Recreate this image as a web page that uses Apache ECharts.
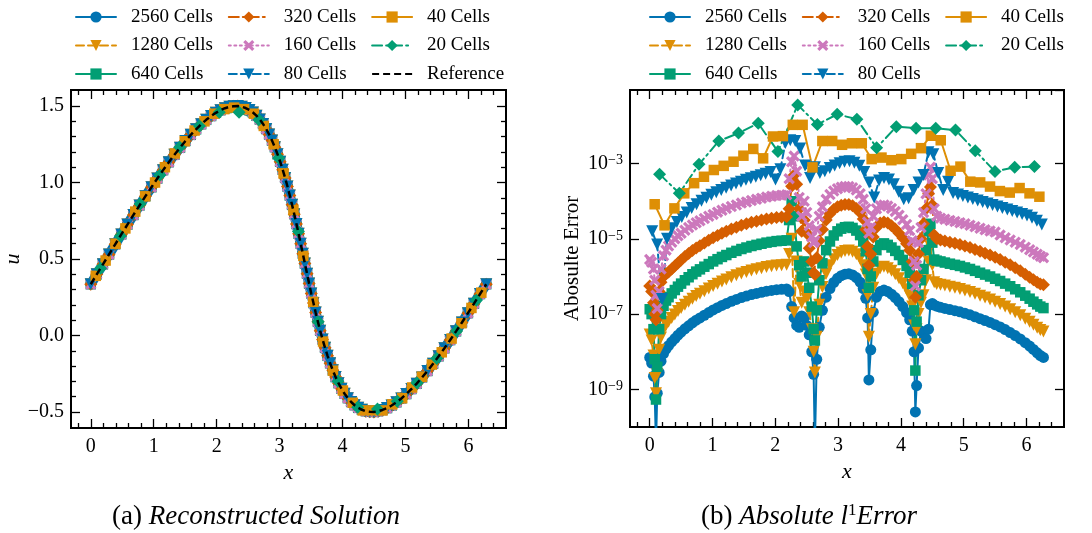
<!DOCTYPE html>
<html>
<head>
<meta charset="utf-8">
<script src="https://cdn.jsdelivr.net/npm/echarts@6/dist/echarts.min.js"></script>
<style>
html,body{margin:0;padding:0;background:#ffffff;}
#chart{width:1092px;height:533px;}
</style>
</head>
<body>
<div id="chart"></div>
<script>
// ---------------- DATA ----------------
// Panel (a): reconstructed solution u(x)
const xCurve = [0.000,0.095,0.193,0.290,0.388,0.485,0.582,0.678,0.774,0.869,0.964,1.057,1.149,1.240,1.329,1.418,1.504,1.589,1.673,1.754,1.834,1.912,1.988,2.061,2.133,2.203,2.270,2.336,2.399,2.461,2.520,2.577,2.632,2.686,2.737,2.787,2.834,2.880,2.925,2.967,3.009,3.049,3.088,3.125,3.162,3.198,3.233,3.268,3.302,3.335,3.369,3.402,3.436,3.469,3.503,3.538,3.573,3.609,3.645,3.683,3.722,3.762,3.803,3.846,3.890,3.936,3.983,4.033,4.084,4.137,4.192,4.249,4.308,4.369,4.433,4.498,4.566,4.635,4.707,4.780,4.856,4.934,5.013,5.095,5.178,5.263,5.349,5.438,5.527,5.618,5.710,5.803,5.897,5.992,6.088,6.184,6.283];
const uCurve = [0.335,0.400,0.465,0.530,0.596,0.661,0.725,0.788,0.850,0.911,0.969,1.026,1.081,1.133,1.182,1.228,1.272,1.312,1.348,1.381,1.410,1.435,1.456,1.473,1.486,1.495,1.499,1.500,1.495,1.487,1.475,1.458,1.437,1.412,1.383,1.350,1.314,1.274,1.231,1.185,1.136,1.084,1.030,0.974,0.915,0.854,0.793,0.729,0.665,0.600,0.535,0.470,0.404,0.339,0.275,0.212,0.150,0.089,0.031,-0.026,-0.081,-0.133,-0.182,-0.228,-0.272,-0.312,-0.348,-0.381,-0.410,-0.435,-0.456,-0.473,-0.486,-0.495,-0.499,-0.500,-0.495,-0.487,-0.475,-0.458,-0.437,-0.412,-0.383,-0.350,-0.315,-0.274,-0.232,-0.185,-0.136,-0.084,-0.030,0.027,0.085,0.146,0.208,0.271,0.335];
const x40 = [0.079,0.236,0.393,0.550,0.707,0.864,1.021,1.178,1.335,1.492,1.649,1.806,1.963,2.121,2.278,2.435,2.592,2.749,2.906,3.063,3.220,3.377,3.534,3.691,3.848,4.006,4.163,4.320,4.477,4.634,4.791,4.948,5.105,5.262,5.419,5.576,5.733,5.890,6.048,6.205];
const u40 = [0.39,0.49,0.60,0.70,0.81,0.91,1.00,1.10,1.19,1.27,1.34,1.40,1.45,1.48,1.49,1.48,1.45,1.37,1.25,1.06,0.82,0.52,0.22,-0.04,-0.23,-0.36,-0.44,-0.49,-0.49,-0.49,-0.45,-0.41,-0.34,-0.27,-0.19,-0.11,-0.02,0.08,0.18,0.28];
const x20 = [0.157,0.471,0.785,1.100,1.414,1.728,2.042,2.356,2.670,2.985,3.299,3.613,3.927,4.241,4.555,4.869,5.184,5.498,5.812,6.126];
const u20 = [0.44,0.65,0.86,1.05,1.23,1.37,1.46,1.46,1.41,1.16,0.68,0.09,-0.30,-0.47,-0.48,-0.43,-0.31,-0.15,0.03,0.23];

// Panel (b): absolute error, stored as log10 of the value read on the log axis
const xFine = [0.00,0.03,0.06,0.08,0.10,0.12,0.15,0.18,0.22,0.26,0.30,0.35,0.40,0.45,0.50,0.56,0.62,0.68,0.74,0.80,0.87,0.94,1.01,1.08,1.15,1.22,1.30,1.38,1.46,1.54,1.62,1.70,1.78,1.86,1.94,2.02,2.10,2.18,2.22,2.26,2.30,2.34,2.38,2.42,2.46,2.50,2.54,2.58,2.61,2.63,2.66,2.70,2.75,2.81,2.87,2.93,2.99,3.05,3.11,3.17,3.23,3.29,3.35,3.40,3.44,3.47,3.49,3.52,3.56,3.61,3.67,3.73,3.79,3.85,3.91,3.97,4.03,4.09,4.14,4.18,4.21,4.23,4.25,4.28,4.32,4.36,4.40,4.44,4.47,4.50,4.53,4.57,4.63,4.70,4.78,4.86,4.94,5.02,5.10,5.18,5.26,5.34,5.42,5.50,5.58,5.66,5.74,5.82,5.90,5.98,6.05,6.11,6.17,6.22,6.27];
const lg2560 = [-8.15,-8.30,-8.65,-9.20,-10.5,-9.10,-8.55,-8.25,-8.05,-7.93,
-7.84,-7.74,-7.65,-7.56,-7.48,-7.39,-7.31,-7.23,-7.16,-7.10,
-7.03,-6.96,-6.89,-6.83,-6.77,-6.72,-6.66,-6.61,-6.56,-6.52,
-6.48,-6.45,-6.42,-6.39,-6.37,-6.35,-6.34,-6.33,-6.40,-6.80,
-7.10,-7.30,-7.35,-7.05,-7.10,-7.30,-7.55,-8.00,-8.60,-10.5,
-8.20,-7.35,-6.90,-6.55,-6.32,-6.16,-6.05,-5.98,-5.94,-5.93,
-5.96,-6.03,-6.15,-6.32,-6.58,-7.10,-8.75,-7.95,-6.95,-6.55,
-6.40,-6.36,-6.40,-6.47,-6.56,-6.67,-6.80,-6.96,-7.15,-7.45,
-8.00,-9.60,-8.90,-7.90,-7.45,-7.50,-7.65,-7.40,-6.75,-6.72,
-6.76,-6.79,-6.82,-6.85,-6.88,-6.91,-6.94,-6.98,-7.02,-7.07,
-7.12,-7.17,-7.22,-7.28,-7.34,-7.41,-7.49,-7.57,-7.66,-7.76,
-7.85,-7.94,-8.03,-8.10,-8.15];
const lg1280 = [-7.54,-7.70,-8.10,-8.70,-9.10,-8.60,-7.95,-7.62,-7.41,-7.29,
-7.20,-7.10,-7.01,-6.92,-6.84,-6.75,-6.67,-6.59,-6.52,-6.46,
-6.39,-6.32,-6.25,-6.19,-6.13,-6.08,-6.02,-5.97,-5.92,-5.88,
-5.84,-5.81,-5.78,-5.75,-5.73,-5.71,-5.70,-5.69,-5.40,-5.00,
-6.95,-5.60,-6.20,-6.70,-6.40,-6.60,-6.95,-7.40,-8.00,-8.55,
-7.60,-6.75,-6.28,-5.93,-5.70,-5.54,-5.43,-5.36,-5.32,-5.31,
-5.34,-5.41,-5.53,-5.70,-5.95,-6.50,-7.60,-7.00,-6.30,-5.93,
-5.78,-5.74,-5.78,-5.85,-5.94,-6.05,-6.18,-6.34,-6.52,-6.80,
-7.30,-7.80,-7.40,-7.00,-6.70,-6.50,-6.10,-5.60,-5.20,-5.70,
-6.15,-6.20,-6.22,-6.24,-6.27,-6.30,-6.33,-6.37,-6.41,-6.46,
-6.51,-6.56,-6.61,-6.67,-6.73,-6.80,-6.87,-6.95,-7.03,-7.12,
-7.20,-7.28,-7.36,-7.42,-7.46];
const lg640 = [-6.87,-7.00,-7.40,-8.20,-9.27,-8.40,-7.40,-7.00,-6.78,-6.64,
-6.55,-6.45,-6.36,-6.27,-6.19,-6.10,-6.02,-5.94,-5.87,-5.81,
-5.74,-5.67,-5.60,-5.54,-5.48,-5.43,-5.37,-5.32,-5.27,-5.23,
-5.19,-5.16,-5.13,-5.10,-5.08,-5.06,-5.05,-5.04,-4.50,-4.00,
-4.40,-5.20,-5.70,-6.00,-5.60,-5.90,-6.30,-6.80,-7.40,-7.70,
-6.90,-6.10,-5.65,-5.30,-5.07,-4.91,-4.80,-4.73,-4.69,-4.68,
-4.71,-4.78,-4.90,-5.07,-5.33,-5.80,-6.30,-6.00,-5.60,-5.30,
-5.16,-5.12,-5.16,-5.23,-5.32,-5.43,-5.56,-5.72,-5.90,-6.20,
-6.90,-8.50,-7.20,-6.50,-6.10,-5.80,-5.30,-4.80,-4.60,-5.10,
-5.55,-5.58,-5.60,-5.63,-5.66,-5.69,-5.72,-5.76,-5.80,-5.85,
-5.90,-5.95,-6.00,-6.06,-6.12,-6.19,-6.26,-6.34,-6.42,-6.51,
-6.59,-6.67,-6.74,-6.80,-6.84];
const lg320 = [-6.25,-6.40,-6.70,-7.00,-7.15,-6.90,-6.40,-6.15,-6.00,-5.93,
-5.88,-5.80,-5.72,-5.64,-5.56,-5.47,-5.39,-5.31,-5.24,-5.18,
-5.11,-5.04,-4.97,-4.91,-4.85,-4.80,-4.74,-4.69,-4.64,-4.60,
-4.56,-4.53,-4.50,-4.47,-4.45,-4.43,-4.42,-4.41,-4.20,-3.60,
-3.30,-3.55,-4.20,-4.80,-4.50,-4.85,-5.25,-5.60,-5.90,-5.95,
-5.50,-5.05,-4.75,-4.50,-4.33,-4.22,-4.15,-4.11,-4.09,-4.09,
-4.12,-4.19,-4.30,-4.47,-4.75,-5.20,-5.70,-5.40,-4.95,-4.70,
-4.58,-4.55,-4.58,-4.65,-4.74,-4.85,-4.98,-5.13,-5.30,-5.60,
-6.10,-6.55,-6.00,-5.40,-5.00,-4.60,-4.20,-3.80,-3.62,-4.10,
-4.90,-5.00,-5.03,-5.06,-5.09,-5.12,-5.15,-5.19,-5.23,-5.28,
-5.33,-5.38,-5.43,-5.49,-5.55,-5.62,-5.69,-5.77,-5.85,-5.94,
-6.02,-6.09,-6.15,-6.20,-6.22];
const lg160 = [-5.55,-5.62,-5.80,-6.10,-6.50,-6.85,-6.40,-5.80,-5.45,-5.30,
-5.19,-5.09,-5.00,-4.92,-4.85,-4.77,-4.70,-4.63,-4.57,-4.52,
-4.46,-4.40,-4.35,-4.29,-4.24,-4.19,-4.14,-4.10,-4.05,-4.02,
-3.98,-3.95,-3.92,-3.89,-3.87,-3.85,-3.84,-3.83,-3.40,-2.95,
-2.80,-3.20,-3.90,-4.40,-4.00,-4.30,-4.65,-4.95,-5.10,-5.05,
-4.75,-4.40,-4.15,-3.95,-3.82,-3.73,-3.67,-3.63,-3.61,-3.61,
-3.64,-3.70,-3.80,-3.95,-4.20,-4.55,-4.85,-4.70,-4.40,-4.20,
-4.12,-4.10,-4.13,-4.19,-4.27,-4.37,-4.49,-4.62,-4.78,-5.05,
-5.60,-6.25,-5.70,-5.10,-4.70,-4.30,-3.80,-3.30,-3.10,-3.40,
-4.20,-4.40,-4.45,-4.48,-4.51,-4.54,-4.57,-4.60,-4.64,-4.68,
-4.72,-4.76,-4.79,-4.82,-4.90,-4.97,-5.03,-5.09,-5.15,-5.22,
-5.29,-5.35,-5.41,-5.46,-5.50];
const x80 = [0.039,0.118,0.196,0.275,0.353,0.432,0.511,0.589,0.668,0.746,0.825,0.903,0.982,1.060,1.139,1.217,1.296,1.374,1.453,1.532,1.610,1.689,1.767,1.846,1.924,2.003,2.081,2.160,2.238,2.317,2.395,2.474,2.553,2.631,2.710,2.788,2.867,2.945,3.024,3.102,3.181,3.259,3.338,3.416,3.495,3.574,3.652,3.731,3.809,3.888,3.966,4.045,4.123,4.202,4.280,4.359,4.437,4.516,4.595,4.673,4.752,4.830,4.909,4.987,5.066,5.145,5.223,5.302,5.380,5.459,5.537,5.616,5.694,5.773,5.851,5.930,6.008,6.087,6.165,6.244];
const lg80 = [-4.80,-5.15,-6.60,-5.00,-4.72,-4.55,-4.42,-4.30,-4.18,-4.08,
-3.99,-3.91,-3.83,-3.76,-3.70,-3.64,-3.58,-3.53,-3.48,-3.43,
-3.39,-3.35,-3.31,-3.27,-3.22,-3.42,-3.15,-2.45,-2.38,-2.40,
-2.60,-3.05,-3.38,-3.10,-3.25,-3.20,-3.12,-3.05,-2.99,-2.95,
-2.94,-2.98,-3.06,-3.22,-3.50,-3.90,-3.45,-3.38,-3.42,-3.55,
-3.75,-3.95,-3.92,-3.70,-3.50,-3.30,-2.70,-2.75,-3.25,-3.70,
-3.48,-3.78,-3.82,-3.86,-3.90,-3.94,-3.98,-4.02,-4.06,-4.10,
-4.14,-4.18,-4.22,-4.26,-4.30,-4.34,-4.38,-4.44,-4.52,-4.62];
const lg40 = [-4.08,-4.64,-4.19,-3.79,-3.52,-3.35,-3.17,-3.06,-2.95,-2.79,-2.61,-2.86,-2.28,-2.27,-1.97,-1.97,-3.10,-2.40,-2.40,-2.50,-2.46,-2.46,-2.88,-2.84,-2.91,-2.88,-2.74,-2.59,-2.26,-2.38,-3.19,-3.08,-3.48,-3.50,-3.61,-3.73,-3.77,-3.65,-3.79,-3.88];
const lg20 = [-3.28,-3.79,-3.02,-2.40,-2.19,-1.93,-2.68,-1.44,-1.96,-1.69,-1.82,-2.58,-2.02,-2.06,-2.06,-2.11,-2.66,-3.21,-3.10,-3.08];

// Axis ticks
const xMajor = [0,1,2,3,4,5,6];
const xMinor = [-0.2,0.2,0.4,0.6,0.8,1.2,1.4,1.6,1.8,2.2,2.4,2.6,2.8,3.2,3.4,3.6,3.8,4.2,4.4,4.6,4.8,5.2,5.4,5.6,5.8,6.2,6.4];
const uMajor = [-0.5,0,0.5,1,1.5];
const uMinor = [-0.4,-0.3,-0.2,-0.1,0.1,0.2,0.3,0.4,0.6,0.7,0.8,0.9,1.1,1.2,1.3,1.4];

const names = ['2560 Cells','1280 Cells','640 Cells','320 Cells','160 Cells','80 Cells','40 Cells','20 Cells'];

// ---------------- STYLE ----------------
const FONT = 'Liberation Serif';
const XMIN = -0.314, XMAX = 6.597;
const YMIN = -0.605, YMAX = 1.605;
const LOGMIN = 1e-10, LOGMAXEXP = -1.044;
const XPATH = 'path://M0,2L2,0L5,3L8,0L10,2L7,5L10,8L8,10L5,7L2,10L0,8L3,5Z';
const st = {
  '2560 Cells': {c:'#0173B2', s:'circle', z:11, r:0, d:'solid'},
  '1280 Cells': {c:'#DE8F05', s:'triangle', z:12, r:180, d:[8,4]},
  '640 Cells':  {c:'#029E73', s:'rect', z:10.5, r:0, d:'solid'},
  '320 Cells':  {c:'#D55E00', s:'diamond', z:13, r:0, d:[10,4,2,4]},
  '160 Cells':  {c:'#CC78BC', s:XPATH, z:11.5, r:0, d:[2,3.5]},
  '80 Cells':   {c:'#0173B2', s:'triangle', z:12, r:180, d:[8,4]},
  '40 Cells':   {c:'#DE8F05', s:'rect', z:10.5, r:0, d:'solid'},
  '20 Cells':   {c:'#029E73', s:'diamond', z:13, r:0, d:[10,4,2,4]}
};

function pairs(xs, ys){ return xs.map((x,i)=>[x, ys[i]]); }
function logPairs(xs, ls){ return xs.map((x,i)=>[x, Math.pow(10, ls[i])]); }

function mkSeries(name, xi, yi, data, lw){
  const s = st[name];
  return {
    type:'line', name, xAxisIndex:xi, yAxisIndex:yi, data,
    symbol:s.s, symbolSize:s.z, symbolRotate:s.r, showSymbol:true,
    lineStyle:{color:s.c, width:lw || 2, type:s.d, cap:'round', join:'round'},
    itemStyle:{color:s.c, borderWidth:0},
    emphasis:{disabled:true}, silent:true, animation:false, clip:true
  };
}

const tickLine = {color:'#000', width:1.3};
function xAx(grid, pos, ticks, len, label, name){
  return {
    type:'value', gridIndex:grid, position:pos, min:XMIN, max:XMAX,
    axisLine:{show:false, onZero:false}, splitLine:{show:false},
    axisTick:{show:true, inside:true, length:len, customValues:ticks, lineStyle:tickLine},
    axisLabel: label ? {show:true, customValues:ticks, margin:9, color:'#000', fontFamily:FONT, fontSize:20,
      formatter:v=>String(v)} : {show:false},
    name: name || '', nameLocation:'middle', nameGap:25,
    nameTextStyle:{fontFamily:FONT, fontSize:22, fontStyle:'italic', color:'#000'}
  };
}
function yAx(grid, pos, ticks, len, label, name){
  return {
    type:'value', gridIndex:grid, position:pos, min:YMIN, max:YMAX,
    axisLine:{show:false, onZero:false}, splitLine:{show:false},
    axisTick:{show:true, inside:true, length:len, customValues:ticks, lineStyle:tickLine},
    axisLabel: label ? {show:true, customValues:ticks, margin:7, color:'#000', fontFamily:FONT, fontSize:20,
      formatter:v=>v.toFixed(1).replace('-', '\u2212')} : {show:false},
    name: name || '', nameLocation:'middle', nameGap:46, nameRotate:90,
    nameTextStyle:{fontFamily:FONT, fontSize:22, fontStyle:'italic', color:'#000'}
  };
}
function expAx(pos, label){
  return {
    type:'value', gridIndex:2, position:pos, min:-9, max:LOGMAXEXP, interval:2,
    axisLine:{show:false, onZero:false}, splitLine:{show:false},
    axisTick:{show:true, inside:true, length:9, lineStyle:tickLine},
    axisLabel: label ? {show:true, margin:7, showMaxLabel:false,
      formatter:v=> Number.isInteger(v) ? '{b|10}{s|' + (v<0?'\u2212':'') + Math.abs(v) + '}' : '',
      rich:{
        b:{fontFamily:FONT, fontSize:20, color:'#000', lineHeight:20, padding:[5,0,0,0], verticalAlign:'bottom'},
        s:{fontFamily:FONT, fontSize:14, color:'#000', lineHeight:14, verticalAlign:'top'}
      }} : {show:false}
  };
}

const xAxes = [
  xAx(0,'bottom',xMajor,9,true,'x'), xAx(0,'bottom',xMinor,5,false), xAx(0,'top',xMajor,9,false), xAx(0,'top',xMinor,5,false),
  xAx(1,'bottom',xMajor,9,true,'x'), xAx(1,'bottom',xMinor,5,false), xAx(1,'top',xMajor,9,false), xAx(1,'top',xMinor,5,false),
  {type:'value', gridIndex:2, min:0, max:1, show:false, axisLine:{onZero:false}}
];
const yAxes = [
  yAx(0,'left',uMajor,9,true,'u'), yAx(0,'left',uMinor,5,false), yAx(0,'right',uMajor,9,false), yAx(0,'right',uMinor,5,false),
  {type:'log', logBase:10, gridIndex:1, min:LOGMIN, max:Math.pow(10, LOGMAXEXP),
   axisLine:{show:false, onZero:false}, splitLine:{show:false}, axisTick:{show:false}, axisLabel:{show:false}, minorTick:{show:false},
   name:'Abosulte Error', nameLocation:'middle', nameGap:47, nameRotate:90,
   nameTextStyle:{fontFamily:FONT, fontSize:21, color:'#000'}},
  expAx('left', true), expAx('right', false)
];

const series = [];
// panel (b) first, so the legends take their icons from these series
series.push(mkSeries('2560 Cells', 4, 4, logPairs(xFine, lg2560)));
series.push(mkSeries('1280 Cells', 4, 4, logPairs(xFine, lg1280)));
series.push(mkSeries('640 Cells', 4, 4, logPairs(xFine, lg640)));
series.push(mkSeries('320 Cells', 4, 4, logPairs(xFine, lg320)));
series.push(mkSeries('160 Cells', 4, 4, logPairs(xFine, lg160)));
series.push(mkSeries('80 Cells', 4, 4, logPairs(x80, lg80)));
series.push(mkSeries('40 Cells', 4, 4, logPairs(x40, lg40)));
series.push(mkSeries('20 Cells', 4, 4, logPairs(x20, lg20)));
// panel (a): the dense 2560-cell markers form a continuous band
series.push(mkSeries('2560 Cells', 0, 0, pairs(xCurve, uCurve), 10));
['1280 Cells','640 Cells','320 Cells','160 Cells','80 Cells'].forEach(n=>{
  series.push(mkSeries(n, 0, 0, pairs(xCurve, uCurve)));
});
series.push(mkSeries('40 Cells', 0, 0, pairs(x40, u40)));
series.push(mkSeries('20 Cells', 0, 0, pairs(x20, u20)));
series.push({type:'line', name:'Reference', xAxisIndex:0, yAxisIndex:0, data:pairs(xCurve, uCurve), z:5,
  symbol:'none', showSymbol:false, lineStyle:{color:'#000', width:2.5, type:[7,4]}, itemStyle:{color:'#000'},
  emphasis:{disabled:true}, silent:true, animation:false});

const legendBase = {
  orient:'vertical', top:7, height:80, padding:0, itemWidth:40, itemHeight:14, itemGap:8.5, selectedMode:false,
  textStyle:{fontFamily:FONT, fontSize:19, color:'#000', lineHeight:20, padding:[0,6.5,0,10]}
};

const capRich = {
  n:{fontFamily:FONT, fontSize:27, fontWeight:'normal', color:'#000', lineHeight:28, padding:[3,0,0,0], verticalAlign:'bottom'},
  i:{fontFamily:FONT, fontSize:27, fontWeight:'normal', color:'#000', fontStyle:'italic', lineHeight:28, padding:[3,0,0,0], verticalAlign:'bottom'},
  s:{fontFamily:FONT, fontSize:17, fontWeight:'normal', color:'#000', lineHeight:17, verticalAlign:'top'}
};

const option = {
  animation:false,
  backgroundColor:'#ffffff',
  textStyle:{fontFamily:FONT},
  grid:[
    {left:71, top:90, width:435, height:338, show:true, borderColor:'#000', borderWidth:2, backgroundColor:'transparent', outerBoundsMode:'none'},
    {left:630, top:90, width:434, height:337, show:true, borderColor:'#000', borderWidth:2, backgroundColor:'transparent', outerBoundsMode:'none'},
    {left:630, top:90, width:434, height:299.4, show:false, outerBoundsMode:'none'}
  ],
  title:[
    {text:'{n|(a) }{i|Reconstructed Solution}', left:112, top:502, padding:0, textStyle:{fontWeight:'normal', rich:capRich}},
    {text:'{n|(b) }{i|Absolute }{i|l}{s|1}{i|Error}', left:701, top:502, padding:0, textStyle:{fontWeight:'normal', rich:capRich}}
  ],
  legend:[
    Object.assign({}, legendBase, {left:75, data:names.concat([{name:'Reference', itemStyle:{opacity:0}}])}),
    Object.assign({}, legendBase, {left:649, data:names.slice()})
  ],
  xAxis:xAxes,
  yAxis:yAxes,
  series
};

const chart = echarts.init(document.getElementById('chart'), null, {renderer:'canvas', devicePixelRatio:1});
chart.setOption(option);
</script>
</body>
</html>
